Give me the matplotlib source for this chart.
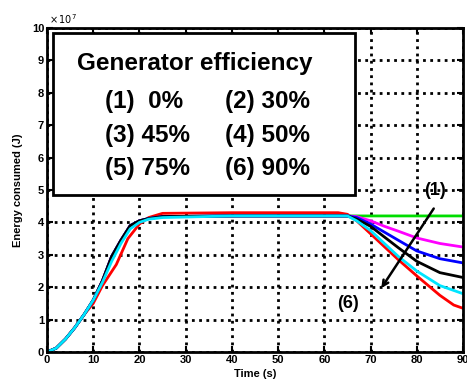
import matplotlib
matplotlib.use("Agg")
import matplotlib.pyplot as plt
from matplotlib.patches import Rectangle

# Energy consumed (x 10^7 J) vs time (s), one curve per generator efficiency
t_common = [0, 2, 4, 6, 8, 10, 12, 14, 16, 18, 20, 22, 25, 40, 55, 65]
e_common = [0, 0.12, 0.4, 0.75, 1.15, 1.6, 2.2, 2.95, 3.45, 3.9, 4.05, 4.12, 4.18, 4.2, 4.2, 4.2]

t_green = t_common + [70, 75, 80, 85, 90]
e_green = e_common + [4.2, 4.2, 4.2, 4.2, 4.2]

t_magenta = t_common + [67, 70, 73, 76, 80, 85, 90]
e_magenta = e_common + [4.18, 4.05, 3.88, 3.73, 3.52, 3.35, 3.24]

t_blue = t_common + [67, 70, 73, 76, 80, 85, 90]
e_blue = e_common + [4.15, 3.95, 3.7, 3.45, 3.12, 2.88, 2.75]

t_black = t_common + [67, 70, 73, 76, 80, 85, 90]
e_black = e_common + [4.1, 3.88, 3.55, 3.22, 2.8, 2.45, 2.3]

t_cyan = [0, 2, 4, 6, 8, 10, 12, 14, 16, 18, 20, 22, 25, 40, 55, 65, 67, 70, 73, 76,
          80, 85, 90]
e_cyan = [0, 0.12, 0.4, 0.75, 1.15, 1.6, 2.15, 2.8, 3.35, 3.8, 4.0, 4.1, 4.15, 4.2, 4.2, 4.2,
          4.05, 3.75, 3.35, 2.95, 2.5, 2.05, 1.8]

t_red = [0, 2, 4, 6, 8, 10, 12, 15, 17.5, 20, 22, 25, 40, 55, 63, 65, 67, 70, 73, 76, 80,
         85, 88, 90]
e_red = [0, 0.12, 0.4, 0.75, 1.15, 1.5, 2.05, 2.7, 3.5, 3.95, 4.15, 4.28, 4.3, 4.3, 4.3,
         4.25, 4.05, 3.65, 3.25, 2.85, 2.35, 1.75, 1.45, 1.35]

legend_title = "Generator efficiency"
legend_rows = [("(1)  0%", "(2) 30%"), ("(3) 45%", "(4) 50%"), ("(5) 75%", "(6) 90%")]

plt.rcParams["font.family"] = ["Liberation Sans", "DejaVu Sans"]

fig = plt.figure(figsize=(4.67, 3.87), dpi=100)
ax = fig.add_axes([0.1006, 0.0904, 0.8908, 0.8372])

ax.plot(t_red, e_red, color="#ff0000", lw=2)
ax.plot(t_green, e_green, color="#00dd00", lw=2)
ax.plot(t_magenta, e_magenta, color="#ff00ff", lw=2)
ax.plot(t_blue, e_blue, color="#0000ff", lw=2)
ax.plot(t_black, e_black, color="black", lw=2)
ax.plot(t_cyan, e_cyan, color="#00e5ff", lw=2)

ax.set_xlim(0, 90)
ax.set_ylim(0, 10)
ax.set_xticks(range(0, 91, 10))
ax.set_yticks(range(0, 11))
ax.grid(True, color="black", linestyle=(0, (1, 1.6)), linewidth=2)
ax.tick_params(direction="in", top=True, right=True, labelsize=8, width=1.5, length=4, pad=2)
for lab in ax.get_xticklabels() + ax.get_yticklabels():
    lab.set_fontweight("bold")
for sp in ax.spines.values():
    sp.set_linewidth(2)

ax.set_xlabel("Time (s)", fontsize=8, fontweight="bold", labelpad=3)
ax.set_ylabel("Energy consumed (J)", fontsize=8, fontweight="bold", labelpad=6)
ax.text(0.5, 10.05, r"$\times\,10^{7}$", fontsize=7, fontweight="bold", va="bottom")

# legend box drawn as a panel inside the axes
ax.add_patch(Rectangle((1.3, 4.85), 65.4, 5.0, facecolor="white", edgecolor="black",
                       lw=2, zorder=5))
ax.text(32, 8.9, legend_title, fontsize=17.5, fontweight="bold", ha="center",
        va="center", zorder=6)
row_y = [7.73, 6.67, 5.67]
for (left, right), y in zip(legend_rows, row_y):
    ax.text(12.6, y, left, fontsize=17.5, fontweight="bold", ha="left", va="center", zorder=6)
    ax.text(38.5, y, right, fontsize=17.5, fontweight="bold", ha="left", va="center", zorder=6)

ax.text(84, 5.0, "(1)", fontsize=13, fontweight="bold", ha="center", va="center", zorder=6)
ax.text(65.2, 1.5, "(6)", fontsize=13, fontweight="bold", ha="center", va="center", zorder=6)
ax.annotate("", xy=(72, 1.9), xytext=(84, 4.5),
            arrowprops=dict(arrowstyle="->", color="black", lw=1.8), zorder=6)

fig.savefig("out.png", dpi=100)
